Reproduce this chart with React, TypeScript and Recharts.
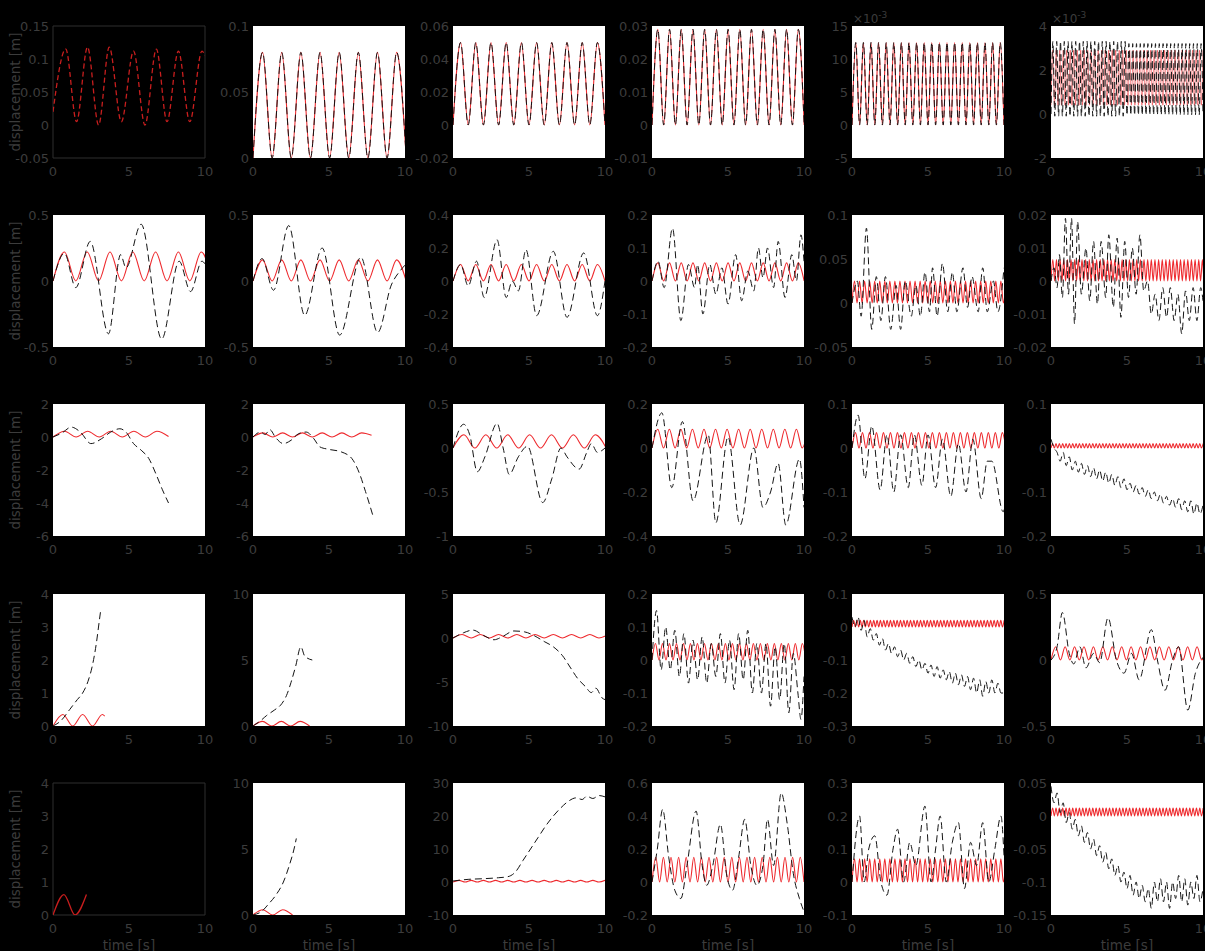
import { LineChart, Line, XAxis, YAxis, CartesianGrid, ReferenceArea } from 'recharts';

type Pt = [number, number];
type Wave = { step: number; values: number[] };
type Series = Pt[] | Wave;

interface Panel {
  y: [number, number];
  ticks: number[];
  red: Series;
  black?: Series;
  dark?: boolean;
  redDash?: boolean;
  exp?: boolean;
  thinRed?: boolean;
}

const TIME_TICKS = [0, 5, 10];

// ---- row 1 ----
const r1c1Red: Pt[] = [
  [0, 0.02], [0.84, 0.115], [1.55, 0.005], [2.27, 0.118], [3.0, 0.0], [3.7, 0.118], [4.5, 0.005],
  [5.3, 0.112], [6.05, 0.0], [6.8, 0.115], [7.5, 0.005], [8.25, 0.112], [9.0, 0.005], [9.8, 0.112], [10, 0.105],
];
const r1c2Wave: Wave = { step: 0.63, values: [0, 0.08, 0, 0.08, 0, 0.08, 0, 0.08, 0, 0.08, 0, 0.08, 0, 0.08, 0, 0.08, 0] };
const r1c3Wave: Wave = {
  step: 0.5,
  values: [0, 0.05, 0, 0.05, 0, 0.05, 0, 0.05, 0, 0.05, 0, 0.05, 0, 0.05, 0, 0.05, 0, 0.05, 0, 0.05, 0],
};
const r1c4Wave: Wave = {
  step: 0.385,
  values: [
    0, 0.029, 0, 0.029, 0, 0.029, 0, 0.029, 0, 0.029, 0, 0.029, 0, 0.029, 0, 0.029, 0, 0.029, 0, 0.029,
    0, 0.029, 0, 0.029, 0, 0.029, 0,
  ],
};
const r1c5Wave: Wave = {
  step: 0.25,
  values: [
    0, 12.5, 0, 12.5, 0, 12.5, 0, 12.5, 0, 12.5, 0, 12.5, 0, 12.5, 0, 12.5, 0, 12.5, 0, 12.5,
    0, 12.5, 0, 12.5, 0, 12.5, 0, 12.5, 0, 12.5, 0, 12.5, 0, 12.5, 0, 12.5, 0, 12.5, 0, 12.5, 0,
  ],
};
const r1c6Black: Wave = {
  step: 0.125,
  values: [
    0, 3.3, -0.1, 3.3, -0.1, 3.3, -0.1, 3.3, -0.1, 3.3, -0.1, 3.3, -0.1, 3.3, -0.1, 3.3, -0.1, 3.3, -0.1, 3.3,
    -0.1, 3.3, -0.1, 3.3, -0.1, 3.3, -0.1, 3.3, -0.1, 3.3, -0.1, 3.3, -0.1, 3.3, -0.1, 3.3, -0.1, 3.3, -0.1, 3.3,
    -0.05, 3.2, -0.05, 3.2, -0.05, 3.2, -0.05, 3.2, -0.05, 3.2, -0.05, 3.2, -0.05, 3.2, -0.05, 3.2, -0.05, 3.2, -0.05, 3.2,
    -0.05, 3.2, -0.05, 3.2, -0.05, 3.2, -0.05, 3.2, -0.05, 3.2, -0.05, 3.2, -0.05, 3.2, -0.05, 3.2, -0.05, 3.2, -0.05, 3.2, 0,
  ],
};
const r1c6Red: Wave = {
  step: 0.115,
  values: [
    0.4, 2.9, 0.4, 2.9, 0.4, 2.9, 0.4, 2.9, 0.4, 2.9, 0.4, 2.9, 0.4, 2.9, 0.4, 2.9, 0.4, 2.9, 0.4, 2.9,
    0.4, 2.9, 0.4, 2.9, 0.4, 2.9, 0.4, 2.9, 0.4, 2.9, 0.4, 2.9, 0.4, 2.9, 0.4, 2.9, 0.4, 2.9, 0.4, 2.9,
    0.4, 2.9, 0.4, 2.9, 0.4, 2.9, 0.4, 2.9, 0.4, 2.9, 0.4, 2.9, 0.4, 2.9, 0.4, 2.9, 0.4, 2.9, 0.4, 2.9,
    0.4, 2.9, 0.4, 2.9, 0.4, 2.9, 0.4, 2.9, 0.4, 2.9, 0.4, 2.9, 0.4, 2.9, 0.4, 2.9, 0.4, 2.9, 0.4, 2.9,
    0.4, 2.9, 0.4, 2.9, 0.4, 2.9, 0.4, 2.9,
  ],
};

// ---- row 2 ----
const r2c1Red: Wave = { step: 0.75, values: [0, 0.22, 0, 0.22, 0, 0.22, 0, 0.22, 0, 0.22, 0, 0.22, 0, 0.22, 0] };
const r2c1Black: Pt[] = [
  [0, 0], [0.75, 0.21], [1.5, -0.05], [2.45, 0.3], [3.65, -0.4], [4.45, 0.2], [4.8, 0.1], [5.8, 0.43],
  [7.15, -0.44], [8.3, 0.15], [9.05, -0.08], [9.8, 0.15], [10, 0.13],
];
const r2c2Red: Wave = { step: 0.63, values: [0, 0.16, 0, 0.16, 0, 0.16, 0, 0.16, 0, 0.16, 0, 0.16, 0, 0.16, 0, 0.16, 0] };
const r2c2Black: Pt[] = [
  [0, 0], [0.6, 0.17], [1.35, -0.07], [2.35, 0.42], [3.4, -0.26], [4.55, 0.25], [5.7, -0.41], [7.1, 0.18],
  [8.2, -0.39], [9.1, -0.03], [9.7, 0.08], [10, 0.12],
];
const r2c3Red: Wave = {
  step: 0.5,
  values: [0, 0.1, 0, 0.1, 0, 0.1, 0, 0.1, 0, 0.1, 0, 0.1, 0, 0.1, 0, 0.1, 0, 0.1, 0, 0.1, 0],
};
const r2c3Black: Pt[] = [
  [0, 0], [0.5, 0.1], [1.0, -0.03], [1.55, 0.12], [2.05, -0.1], [2.9, 0.25], [3.5, -0.1], [3.9, 0.0],
  [4.3, -0.06], [4.8, 0.19], [5.5, -0.21], [6.6, 0.18], [7.5, -0.22], [8.6, 0.17], [9.5, -0.21], [10, 0.0],
];
const r2c4Red: Wave = {
  step: 0.385,
  values: [
    0, 0.055, 0, 0.055, 0, 0.055, 0, 0.055, 0, 0.055, 0, 0.055, 0, 0.055, 0, 0.055, 0, 0.055, 0, 0.055,
    0, 0.055, 0, 0.055, 0, 0.055, 0,
  ],
};
const r2c4Black: Pt[] = [
  [0, 0], [0.4, 0.06], [0.8, -0.02], [1.35, 0.16], [1.9, -0.12], [2.4, 0.05], [2.8, -0.02], [3.0, 0.05],
  [3.35, -0.1], [3.8, 0.05], [4.2, -0.04], [4.6, 0.04], [5.0, -0.07], [5.5, 0.08], [5.9, -0.06], [6.3, 0.03],
  [6.7, -0.03], [7.0, 0.1], [7.3, 0.01], [7.6, 0.1], [8.0, -0.02], [8.3, 0.12], [8.75, -0.05], [9.2, 0.08],
  [9.5, 0.0], [9.8, 0.14], [10, 0.06],
];
const r2c5Red: Wave = {
  step: 0.166,
  values: [
    0, 0.025, 0, 0.025, 0, 0.025, 0, 0.025, 0, 0.025, 0, 0.025, 0, 0.025, 0, 0.025, 0, 0.025, 0, 0.025,
    0, 0.025, 0, 0.025, 0, 0.025, 0, 0.025, 0, 0.025, 0, 0.025, 0, 0.025, 0, 0.025, 0, 0.025, 0, 0.025,
    0, 0.025, 0, 0.025, 0, 0.025, 0, 0.025, 0, 0.025, 0, 0.025, 0, 0.025, 0, 0.025, 0, 0.025, 0, 0.025,
    0, 0.025,
  ],
};
const r2c5Black: Pt[] = [
  [0, 0], [0.35, 0.025], [0.6, -0.015], [0.95, 0.085], [1.3, -0.03], [1.6, 0.03], [1.9, -0.02], [2.2, 0.03],
  [2.55, -0.03], [2.9, 0.02], [3.2, -0.03], [3.5, 0.025], [3.9, -0.015], [4.2, 0.02], [4.5, -0.015], [4.8, 0.035],
  [5.1, -0.01], [5.3, 0.04], [5.6, -0.015], [5.95, 0.045], [6.3, -0.01], [6.6, 0.035], [6.9, -0.01], [7.3, 0.04],
  [7.6, -0.005], [7.9, 0.03], [8.3, -0.01], [8.6, 0.04], [8.9, -0.01], [9.3, 0.025], [9.6, -0.01], [10, 0.04],
];
const r2c6Red: Wave = {
  step: 0.12,
  values: [
    0, 0.0065, 0, 0.0065, 0, 0.0065, 0, 0.0065, 0, 0.0065, 0, 0.0065, 0, 0.0065, 0, 0.0065, 0, 0.0065, 0, 0.0065,
    0, 0.0065, 0, 0.0065, 0, 0.0065, 0, 0.0065, 0, 0.0065, 0, 0.0065, 0, 0.0065, 0, 0.0065, 0, 0.0065, 0, 0.0065,
    0, 0.0065, 0, 0.0065, 0, 0.0065, 0, 0.0065, 0, 0.0065, 0, 0.0065, 0, 0.0065, 0, 0.0065, 0, 0.0065, 0, 0.0065,
    0, 0.0065, 0, 0.0065, 0, 0.0065, 0, 0.0065, 0, 0.0065, 0, 0.0065, 0, 0.0065, 0, 0.0065, 0, 0.0065, 0, 0.0065,
    0, 0.0065, 0, 0.0065, 0, 0.0065,
  ],
};
const r2c6Black: Pt[] = [
  [0, 0], [0.2, 0.004], [0.4, -0.002], [0.55, 0.008], [0.75, -0.005], [0.95, 0.019], [1.15, -0.004], [1.35, 0.019],
  [1.55, -0.013], [1.75, 0.018], [2.0, -0.004], [2.3, 0.01], [2.55, -0.006], [2.8, 0.012], [3.05, -0.007], [3.3, 0.012],
  [3.6, -0.005], [3.8, 0.014], [4.1, -0.008], [4.35, 0.013], [4.6, -0.011], [4.85, 0.012], [5.1, -0.005], [5.35, 0.01],
  [5.6, -0.004], [5.85, 0.014], [6.1, -0.003], [6.35, 0.0], [6.6, -0.01], [6.85, -0.004], [7.1, -0.012], [7.35, -0.002],
  [7.6, -0.011], [7.85, -0.002], [8.1, -0.012], [8.35, -0.004], [8.6, -0.016], [8.85, -0.003], [9.1, -0.012], [9.35, -0.002],
  [9.6, -0.012], [9.85, -0.002], [10, -0.006],
];

// ---- row 3 ----
const r3c1Red: Wave = { step: 0.76, values: [0, 0.35, 0, 0.35, 0, 0.35, 0, 0.35, 0, 0.35, 0.03] };
const r3c1Black: Pt[] = [
  [0, 0], [0.6, 0.25], [1.2, 0.6], [1.8, 0.3], [2.5, -0.4], [3.2, -0.1], [3.8, 0.3], [4.4, 0.5], [4.8, 0.3],
  [5.3, -0.4], [5.8, -0.8], [6.3, -1.3], [6.8, -2.3], [7.2, -3.2], [7.6, -4.0],
];
const r3c2Red: Wave = { step: 0.65, values: [0, 0.25, 0, 0.25, 0, 0.25, 0, 0.25, 0, 0.25, 0, 0.25, 0.1] };
const r3c2Black: Pt[] = [
  [0, 0], [0.5, 0.3], [0.8, 0.15], [1.1, 0.45], [1.5, -0.05], [2.0, -0.4], [2.5, -0.2], [3.0, 0.2], [3.5, 0.3],
  [4.0, -0.1], [4.4, -0.6], [5.0, -0.75], [5.8, -0.9], [6.5, -1.3], [7.0, -2.2], [7.4, -3.3], [7.9, -4.8],
];
const r3c3Red: Wave = { step: 0.72, values: [0, 0.15, 0, 0.15, 0, 0.15, 0, 0.15, 0, 0.15, 0, 0.15, 0, 0.15, 0] };
const r3c3Black: Pt[] = [
  [0, 0], [0.7, 0.27], [1.1, 0.15], [1.6, -0.27], [2.1, -0.1], [2.9, 0.28], [3.3, 0.0], [3.7, -0.3], [4.3, -0.1],
  [4.9, 0.02], [5.9, -0.62], [6.5, -0.35], [7.1, 0.0], [7.5, -0.1], [8.3, -0.24], [8.8, -0.05], [9.1, 0.05],
  [9.5, -0.05], [10, 0.0],
];
const r3c4Red: Wave = {
  step: 0.38,
  values: [
    0, 0.085, 0, 0.085, 0, 0.085, 0, 0.085, 0, 0.085, 0, 0.085, 0, 0.085, 0, 0.085, 0, 0.085, 0, 0.085,
    0, 0.085, 0, 0.085, 0, 0.085, 0, 0.085,
  ],
};
const r3c4Black: Pt[] = [
  [0, 0], [0.65, 0.16], [1.3, -0.18], [2.0, 0.12], [2.7, -0.24], [3.7, 0.06], [4.2, -0.34], [5.0, 0.05],
  [5.8, -0.35], [6.7, 0.0], [7.3, -0.27], [7.8, -0.2], [8.3, -0.07], [8.8, -0.35], [9.7, -0.05], [10, -0.27],
];
const r3c5Red: Wave = {
  step: 0.23,
  values: [
    0, 0.035, 0, 0.035, 0, 0.035, 0, 0.035, 0, 0.035, 0, 0.035, 0, 0.035, 0, 0.035, 0, 0.035, 0, 0.035,
    0, 0.035, 0, 0.035, 0, 0.035, 0, 0.035, 0, 0.035, 0, 0.035, 0, 0.035, 0, 0.035, 0, 0.035, 0, 0.035,
    0, 0.035, 0, 0.035, 0,
  ],
};
const r3c5Black: Pt[] = [
  [0, 0], [0.4, 0.075], [0.85, -0.07], [1.3, 0.05], [1.85, -0.095], [2.3, 0.03], [2.75, -0.1], [3.2, 0.03],
  [3.7, -0.09], [4.1, 0.03], [4.6, -0.085], [5.0, 0.03], [5.5, -0.09], [5.95, 0.02], [6.5, -0.11], [7.0, 0.01],
  [7.5, -0.1], [7.95, 0.02], [8.5, -0.115], [8.9, -0.03], [9.2, -0.03], [9.95, -0.145], [10, -0.14],
];
const r3c6Red: Wave = {
  step: 0.11,
  values: [
    0, 0.01, 0, 0.01, 0, 0.01, 0, 0.01, 0, 0.01, 0, 0.01, 0, 0.01, 0, 0.01, 0, 0.01, 0, 0.01,
    0, 0.01, 0, 0.01, 0, 0.01, 0, 0.01, 0, 0.01, 0, 0.01, 0, 0.01, 0, 0.01, 0, 0.01, 0, 0.01,
    0, 0.01, 0, 0.01, 0, 0.01, 0, 0.01, 0, 0.01, 0, 0.01, 0, 0.01, 0, 0.01, 0, 0.01, 0, 0.01,
    0, 0.01, 0, 0.01, 0, 0.01, 0, 0.01, 0, 0.01, 0, 0.01, 0, 0.01, 0, 0.01, 0, 0.01, 0, 0.01,
    0, 0.01, 0, 0.01, 0, 0.01, 0, 0.01, 0, 0.01, 0, 0.01,
  ],
};
const r3c6Black: Wave = {
  step: 0.2,
  values: [
    0.02, 0.0, -0.01, -0.03, -0.01, -0.04, -0.02, -0.05, -0.03, -0.055, -0.035, -0.06, -0.04, -0.065, -0.045, -0.07,
    -0.05, -0.075, -0.055, -0.08, -0.06, -0.085, -0.065, -0.09, -0.07, -0.095, -0.08, -0.1, -0.085, -0.105, -0.09, -0.11,
    -0.095, -0.115, -0.1, -0.12, -0.105, -0.125, -0.11, -0.13, -0.115, -0.135, -0.115, -0.14, -0.12, -0.145, -0.12, -0.15,
    -0.125, -0.15, -0.13,
  ],
};

// ---- row 4 ----
const r4c1Red: Pt[] = [[0, 0], [0.65, 0.35], [1.3, 0], [1.95, 0.35], [2.6, 0], [3.25, 0.35], [3.4, 0.3]];
const r4c1Black: Pt[] = [
  [0, 0], [0.5, 0.15], [1.1, 0.5], [1.6, 0.8], [1.95, 1.0], [2.3, 1.35], [2.6, 1.85], [2.85, 2.5], [3.05, 3.2], [3.15, 3.55],
];
const r4c2Red: Wave = { step: 0.62, values: [0, 0.35, 0, 0.35, 0, 0.35, 0] };
const r4c2Black: Pt[] = [
  [0, 0], [0.5, 0.4], [0.9, 0.8], [1.4, 1.2], [1.9, 1.7], [2.2, 2.3], [2.5, 3.3], [2.8, 4.5], [3.15, 6.0], [3.4, 5.3], [3.9, 5.0],
];
const r4c3Red: Wave = { step: 0.6, values: [0, 0.4, 0, 0.4, 0, 0.4, 0, 0.4, 0, 0.4, 0, 0.4, 0, 0.4, 0, 0.4, 0, 0.4] };
const r4c3Black: Pt[] = [
  [0, 0], [0.7, 0.6], [1.3, 0.9], [2.0, 0.3], [2.7, -0.2], [3.3, 0.2], [4.0, 0.8], [4.7, 0.7], [5.3, 0.3], [6.0, -0.4],
  [6.6, -1.0], [7.2, -2.0], [7.7, -3.3], [8.2, -4.6], [8.7, -5.5], [9.1, -6.2], [9.4, -5.7], [9.8, -6.8], [10, -7.0],
];
const r4c4Red: Wave = {
  step: 0.23,
  values: [
    0, 0.05, 0, 0.05, 0, 0.05, 0, 0.05, 0, 0.05, 0, 0.05, 0, 0.05, 0, 0.05, 0, 0.05, 0, 0.05,
    0, 0.05, 0, 0.05, 0, 0.05, 0, 0.05, 0, 0.05, 0, 0.05, 0, 0.05, 0, 0.05, 0, 0.05, 0, 0.05,
    0, 0.05, 0, 0.05, 0,
  ],
};
const r4c4Black: Pt[] = [
  [0, 0], [0.3, 0.15], [0.6, -0.03], [0.9, 0.1], [1.2, -0.03], [1.5, 0.09], [1.8, -0.05], [2.1, 0.08], [2.4, -0.07],
  [2.7, 0.06], [3.0, -0.06], [3.3, 0.07], [3.6, -0.07], [3.9, 0.05], [4.2, -0.05], [4.5, 0.08], [4.8, -0.07], [5.1, 0.06],
  [5.4, -0.09], [5.7, 0.08], [6.0, -0.06], [6.3, 0.09], [6.6, -0.1], [6.9, 0.05], [7.2, -0.1], [7.5, 0.05], [7.8, -0.14],
  [8.1, 0.04], [8.4, -0.12], [8.7, 0.05], [9.0, -0.16], [9.3, 0.02], [9.6, -0.1], [9.8, -0.18], [10, -0.05],
];
const r4c5Red: Wave = {
  step: 0.11,
  values: [
    0, 0.02, 0, 0.02, 0, 0.02, 0, 0.02, 0, 0.02, 0, 0.02, 0, 0.02, 0, 0.02, 0, 0.02, 0, 0.02,
    0, 0.02, 0, 0.02, 0, 0.02, 0, 0.02, 0, 0.02, 0, 0.02, 0, 0.02, 0, 0.02, 0, 0.02, 0, 0.02,
    0, 0.02, 0, 0.02, 0, 0.02, 0, 0.02, 0, 0.02, 0, 0.02, 0, 0.02, 0, 0.02, 0, 0.02, 0, 0.02,
    0, 0.02, 0, 0.02, 0, 0.02, 0, 0.02, 0, 0.02, 0, 0.02, 0, 0.02, 0, 0.02, 0, 0.02, 0, 0.02,
    0, 0.02, 0, 0.02, 0, 0.02, 0, 0.02, 0, 0.02, 0, 0.02,
  ],
};
const r4c5Black: Wave = {
  step: 0.2,
  values: [
    0.03, 0.0, 0.03, -0.01, 0.02, -0.03, -0.005, -0.04, -0.02, -0.055, -0.035, -0.07, -0.05, -0.08, -0.06, -0.09,
    -0.07, -0.1, -0.08, -0.11, -0.09, -0.12, -0.1, -0.13, -0.11, -0.14, -0.115, -0.15, -0.12, -0.155, -0.13, -0.16,
    -0.135, -0.17, -0.14, -0.175, -0.145, -0.18, -0.15, -0.19, -0.155, -0.2, -0.16, -0.21, -0.165, -0.2, -0.16, -0.2,
    -0.17, -0.2, -0.2,
  ],
};
const r4c6Red: Wave = {
  step: 0.31,
  values: [
    0, 0.1, 0, 0.1, 0, 0.1, 0, 0.1, 0, 0.1, 0, 0.1, 0, 0.1, 0, 0.1, 0, 0.1, 0, 0.1,
    0, 0.1, 0, 0.1, 0, 0.1, 0, 0.1, 0, 0.1, 0, 0.1, 0, 0.1,
  ],
};
const r4c6Black: Pt[] = [
  [0, 0], [0.4, 0.1], [0.75, 0.36], [1.2, 0.05], [1.5, -0.03], [1.9, 0.1], [2.3, -0.06], [2.8, 0.05], [3.2, -0.02],
  [3.75, 0.32], [4.3, 0.0], [4.8, -0.1], [5.3, 0.05], [5.8, -0.15], [6.6, 0.23], [7.0, 0.0], [7.5, -0.23], [8.0, 0.0],
  [8.4, 0.1], [9.0, -0.38], [9.5, -0.1], [10, 0.02],
];

// ---- row 5 ----
const r5c1Red: Pt[] = [[0, 0], [0.72, 0.62], [1.45, 0], [2.2, 0.62]];
const r5c2Red: Wave = { step: 0.65, values: [0, 0.4, 0, 0.4, 0] };
const r5c2Black: Pt[] = [
  [0, 0], [0.6, 0.3], [1.0, 0.8], [1.5, 1.5], [2.0, 2.5], [2.4, 3.8], [2.7, 5.0], [2.85, 5.8],
];
const r5c3Red: Wave = {
  step: 0.4,
  values: [0, 0.5, 0, 0.5, 0, 0.5, 0, 0.5, 0, 0.5, 0, 0.5, 0, 0.5, 0, 0.5, 0, 0.5, 0, 0.5, 0, 0.5, 0, 0.5, 0, 0.5],
};
const r5c3Black: Pt[] = [
  [0, 0.3], [1, 0.8], [2, 1.0], [3, 1.3], [3.6, 1.6], [4.1, 3], [4.6, 6.5], [5.1, 10], [5.6, 13.5], [6.1, 17],
  [6.6, 20], [7.1, 22.5], [7.6, 24.5], [8.1, 25.5], [8.5, 25], [8.8, 26], [9.2, 25.3], [9.6, 26.2], [10, 25.8],
];
const r5c4Red: Wave = {
  step: 0.25,
  values: [
    0, 0.15, 0, 0.15, 0, 0.15, 0, 0.15, 0, 0.15, 0, 0.15, 0, 0.15, 0, 0.15, 0, 0.15, 0, 0.15,
    0, 0.15, 0, 0.15, 0, 0.15, 0, 0.15, 0, 0.15, 0, 0.15, 0, 0.15, 0, 0.15, 0, 0.15, 0, 0.15, 0,
  ],
};
const r5c4Black: Pt[] = [
  [0, 0], [0.35, 0.2], [0.7, 0.44], [1.1, 0.15], [1.5, -0.05], [1.9, -0.1], [2.3, 0.1], [2.9, 0.43], [3.3, 0.1],
  [3.6, -0.02], [4.0, 0.1], [4.5, 0.35], [4.9, 0.05], [5.3, -0.05], [5.7, 0.15], [6.1, 0.38], [6.5, 0.1], [6.9, -0.02],
  [7.3, 0.1], [7.6, 0.38], [8.0, 0.1], [8.5, 0.54], [8.9, 0.35], [9.3, 0.05], [9.7, -0.1], [10, -0.18],
];
const r5c5Red: Wave = {
  step: 0.166,
  values: [
    0, 0.07, 0, 0.07, 0, 0.07, 0, 0.07, 0, 0.07, 0, 0.07, 0, 0.07, 0, 0.07, 0, 0.07, 0, 0.07,
    0, 0.07, 0, 0.07, 0, 0.07, 0, 0.07, 0, 0.07, 0, 0.07, 0, 0.07, 0, 0.07, 0, 0.07, 0, 0.07,
    0, 0.07, 0, 0.07, 0, 0.07, 0, 0.07, 0, 0.07, 0, 0.07, 0, 0.07, 0, 0.07, 0, 0.07, 0, 0.07,
    0, 0.07,
  ],
};
const r5c5Black: Pt[] = [
  [0, 0], [0.5, 0.2], [0.8, 0.0], [1.1, 0.1], [1.5, 0.14], [1.9, 0.0], [2.3, -0.04], [2.7, 0.1], [3.0, 0.16],
  [3.4, 0.0], [3.8, 0.12], [4.2, 0.05], [4.8, 0.23], [5.2, 0.0], [5.5, 0.1], [5.8, 0.2], [6.2, 0.0], [6.6, 0.12],
  [7.0, 0.18], [7.4, -0.02], [7.8, 0.12], [8.2, 0.05], [8.6, 0.18], [9.0, 0.0], [9.4, 0.1], [9.8, 0.2], [10, 0.08],
];
const r5c6Red: Wave = {
  step: 0.11,
  values: [
    0, 0.012, 0, 0.012, 0, 0.012, 0, 0.012, 0, 0.012, 0, 0.012, 0, 0.012, 0, 0.012, 0, 0.012, 0, 0.012,
    0, 0.012, 0, 0.012, 0, 0.012, 0, 0.012, 0, 0.012, 0, 0.012, 0, 0.012, 0, 0.012, 0, 0.012, 0, 0.012,
    0, 0.012, 0, 0.012, 0, 0.012, 0, 0.012, 0, 0.012, 0, 0.012, 0, 0.012, 0, 0.012, 0, 0.012, 0, 0.012,
    0, 0.012, 0, 0.012, 0, 0.012, 0, 0.012, 0, 0.012, 0, 0.012, 0, 0.012, 0, 0.012, 0, 0.012, 0, 0.012,
    0, 0.012, 0, 0.012, 0, 0.012, 0, 0.012, 0, 0.012, 0, 0.012,
  ],
};
const r5c6Black: Wave = {
  step: 0.2,
  values: [
    0.045, 0.02, 0.035, 0.005, 0.02, -0.01, 0.005, -0.02, -0.005, -0.03, -0.015, -0.04, -0.025, -0.05, -0.035, -0.06,
    -0.045, -0.07, -0.055, -0.08, -0.065, -0.09, -0.075, -0.1, -0.085, -0.11, -0.09, -0.12, -0.1, -0.125, -0.105, -0.13,
    -0.11, -0.14, -0.1, -0.13, -0.095, -0.13, -0.1, -0.14, -0.1, -0.125, -0.09, -0.13, -0.095, -0.135, -0.1, -0.125,
    -0.09, -0.13, -0.11,
  ],
};

const PANELS: Panel[][] = [
  [
    { y: [-0.05, 0.15], ticks: [-0.05, 0, 0.05, 0.1, 0.15], red: r1c1Red, dark: true, redDash: true },
    { y: [0, 0.1], ticks: [0, 0.05, 0.1], red: r1c2Wave, black: r1c2Wave },
    { y: [-0.02, 0.06], ticks: [-0.02, 0, 0.02, 0.04, 0.06], red: r1c3Wave, black: r1c3Wave },
    { y: [-0.01, 0.03], ticks: [-0.01, 0, 0.01, 0.02, 0.03], red: r1c4Wave, black: r1c4Wave },
    { y: [-5, 15], ticks: [-5, 0, 5, 10, 15], red: r1c5Wave, black: r1c5Wave, exp: true },
    { y: [-2, 4], ticks: [-2, 0, 2, 4], red: r1c6Red, black: r1c6Black, exp: true, thinRed: true },
  ],
  [
    { y: [-0.5, 0.5], ticks: [-0.5, 0, 0.5], red: r2c1Red, black: r2c1Black },
    { y: [-0.5, 0.5], ticks: [-0.5, 0, 0.5], red: r2c2Red, black: r2c2Black },
    { y: [-0.4, 0.4], ticks: [-0.4, -0.2, 0, 0.2, 0.4], red: r2c3Red, black: r2c3Black },
    { y: [-0.2, 0.2], ticks: [-0.2, -0.1, 0, 0.1, 0.2], red: r2c4Red, black: r2c4Black },
    { y: [-0.05, 0.1], ticks: [-0.05, 0, 0.05, 0.1], red: r2c5Red, black: r2c5Black },
    { y: [-0.02, 0.02], ticks: [-0.02, -0.01, 0, 0.01, 0.02], red: r2c6Red, black: r2c6Black },
  ],
  [
    { y: [-6, 2], ticks: [-6, -4, -2, 0, 2], red: r3c1Red, black: r3c1Black },
    { y: [-6, 2], ticks: [-6, -4, -2, 0, 2], red: r3c2Red, black: r3c2Black },
    { y: [-1, 0.5], ticks: [-1, -0.5, 0, 0.5], red: r3c3Red, black: r3c3Black },
    { y: [-0.4, 0.2], ticks: [-0.4, -0.2, 0, 0.2], red: r3c4Red, black: r3c4Black },
    { y: [-0.2, 0.1], ticks: [-0.2, -0.1, 0, 0.1], red: r3c5Red, black: r3c5Black },
    { y: [-0.2, 0.1], ticks: [-0.2, -0.1, 0, 0.1], red: r3c6Red, black: r3c6Black },
  ],
  [
    { y: [0, 4], ticks: [0, 1, 2, 3, 4], red: r4c1Red, black: r4c1Black },
    { y: [0, 10], ticks: [0, 5, 10], red: r4c2Red, black: r4c2Black },
    { y: [-10, 5], ticks: [-10, -5, 0, 5], red: r4c3Red, black: r4c3Black },
    { y: [-0.2, 0.2], ticks: [-0.2, -0.1, 0, 0.1, 0.2], red: r4c4Red, black: r4c4Black },
    { y: [-0.3, 0.1], ticks: [-0.3, -0.2, -0.1, 0, 0.1], red: r4c5Red, black: r4c5Black },
    { y: [-0.5, 0.5], ticks: [-0.5, 0, 0.5], red: r4c6Red, black: r4c6Black },
  ],
  [
    { y: [0, 4], ticks: [0, 1, 2, 3, 4], red: r5c1Red, dark: true },
    { y: [0, 10], ticks: [0, 5, 10], red: r5c2Red, black: r5c2Black },
    { y: [-10, 30], ticks: [-10, 0, 10, 20, 30], red: r5c3Red, black: r5c3Black },
    { y: [-0.2, 0.6], ticks: [-0.2, 0, 0.2, 0.4, 0.6], red: r5c4Red, black: r5c4Black },
    { y: [-0.1, 0.3], ticks: [-0.1, 0, 0.1, 0.2, 0.3], red: r5c5Red, black: r5c5Black },
    { y: [-0.15, 0.05], ticks: [-0.15, -0.1, -0.05, 0, 0.05], red: r5c6Red, black: r5c6Black },
  ],
];

const COL_X = [53, 253, 453, 652, 852, 1051];
const ROW_Y = [26, 215, 404, 594, 783];
const BOX_W = 152;
const BOX_H = 132;
const AXIS_W = 45;
const PAD_T = 12;
const PAD_R = 12;
const AXIS_H = 25;

const TEXT_GRAY = '#3c3c3c';
const FONT = 'DejaVu Sans, sans-serif';
const TICK = { fill: TEXT_GRAY, fontSize: 13, fontFamily: FONT };

const toRows = (s: Series) =>
  Array.isArray(s)
    ? s.map(([t, v]) => ({ t, v }))
    : s.values.map((v, i) => ({ t: Math.round(i * s.step * 1000) / 1000, v }));

const PanelChart = ({ p, left, top }: { p: Panel; left: number; top: number }) => (
  <div style={{ position: 'absolute', left: left - AXIS_W, top: top - PAD_T }}>
    <LineChart
      width={AXIS_W + BOX_W + PAD_R}
      height={PAD_T + BOX_H + AXIS_H}
      margin={{ top: PAD_T, right: PAD_R, bottom: 0, left: 0 }}
    >
      <CartesianGrid horizontal={false} vertical={false} fill={p.dark ? '#000' : '#fff'} fillOpacity={1} />
      <XAxis
        type="number"
        dataKey="t"
        domain={[0, 10]}
        ticks={TIME_TICKS}
        interval={0}
        allowDataOverflow
        axisLine={false}
        tickLine={false}
        tickSize={0}
        tickMargin={9}
        height={AXIS_H}
        tick={TICK}
      />
      <YAxis
        type="number"
        domain={p.y}
        ticks={p.ticks}
        interval={0}
        allowDataOverflow
        axisLine={false}
        tickLine={false}
        tickSize={0}
        tickMargin={4}
        width={AXIS_W}
        tick={TICK}
      />
      {p.dark && <ReferenceArea x1={0} x2={10} y1={p.y[0]} y2={p.y[1]} fill="none" stroke="#2e2e2e" strokeWidth={1} />}
      <Line
        data={toRows(p.red)}
        dataKey="v"
        type="monotone"
        stroke={p.dark ? '#c81e1e' : '#ee2a2e'}
        strokeWidth={p.dark ? 1.3 : p.thinRed ? 0.8 : 1.1}
        strokeOpacity={p.thinRed ? 0.7 : 1}
        strokeDasharray={p.redDash ? '5 3' : undefined}
        dot={false}
        isAnimationActive={false}
      />
      {p.black && (
        <Line
          data={toRows(p.black)}
          dataKey="v"
          type="monotone"
          stroke="#141414"
          strokeWidth={1}
          strokeDasharray="7 4"
          dot={false}
          isAnimationActive={false}
        />
      )}
    </LineChart>
  </div>
);

export default function App() {
  return (
    <div
      style={{
        position: 'fixed',
        left: 0,
        top: 0,
        width: 1205,
        height: 951,
        background: '#000',
        overflow: 'hidden',
      }}
    >
      {PANELS.map((row, r) =>
        row.map((p, c) => <PanelChart key={`${r}-${c}`} p={p} left={COL_X[c]} top={ROW_Y[r]} />)
      )}
      <svg width={1205} height={951} style={{ position: 'absolute', left: 0, top: 0, pointerEvents: 'none' }}>
        {ROW_Y.map((y) => (
          <text
            key={`yl-${y}`}
            x={15}
            y={y + BOX_H / 2}
            transform={`rotate(-90 15 ${y + BOX_H / 2})`}
            textAnchor="middle"
            dominantBaseline="central"
            fill={TEXT_GRAY}
            fontSize={13.5}
            fontFamily={FONT}
          >
            displacement [m]
          </text>
        ))}
        {COL_X.map((x) => (
          <text
            key={`xl-${x}`}
            x={x + BOX_W / 2}
            y={950}
            textAnchor="middle"
            fill={TEXT_GRAY}
            fontSize={13.5}
            fontFamily={FONT}
          >
            time [s]
          </text>
        ))}
        {PANELS[0].map((p, c) =>
          p.exp ? (
            <text key={`exp-${c}`} x={COL_X[c] + 1} y={ROW_Y[0] - 3} fill={TEXT_GRAY} fontSize={12} fontFamily={FONT}>
              ×10
              <tspan dy={-5} fontSize={9}>
                -3
              </tspan>
            </text>
          ) : null
        )}
      </svg>
    </div>
  );
}
